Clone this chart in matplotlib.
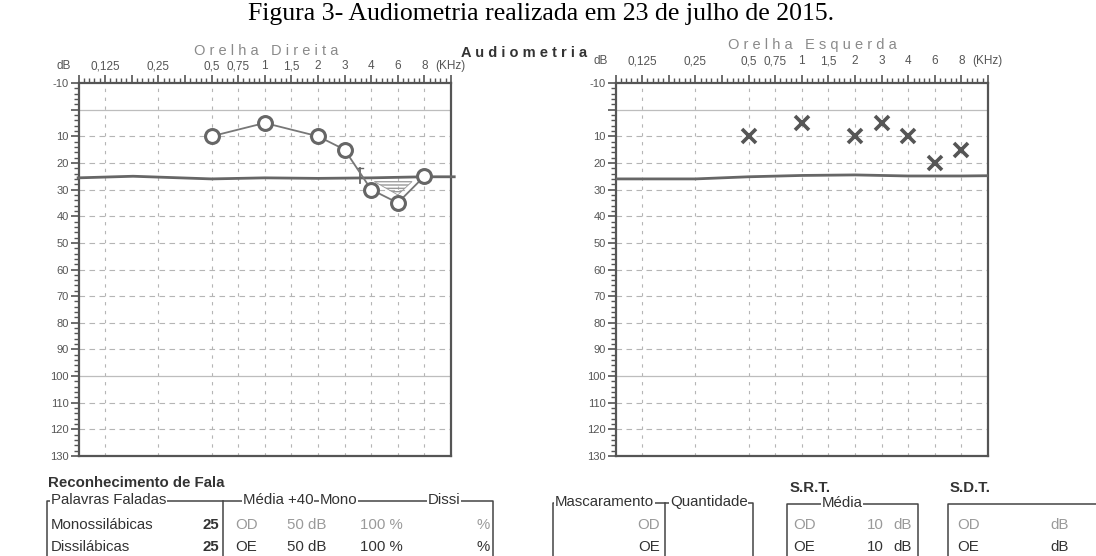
import numpy as np
import matplotlib
matplotlib.use("Agg")
from matplotlib import pyplot as plt
from matplotlib.lines import Line2D
from matplotlib.ticker import FixedLocator, FixedFormatter

plt.rcParams['font.family'] = ['Liberation Sans', 'DejaVu Sans']

# audiogram frequencies (kHz) and labels
freqs = [0.125, 0.25, 0.5, 0.75, 1, 1.5, 2, 3, 4, 6, 8]
freq_labels = ['0,125', '0,25', '0,5', '0,75', '1', '1,5', '2', '3', '4', '6', '8']

# right ear (O) and left ear (X) thresholds in dB
od_freq = [0.5, 1, 2, 3, 4, 6, 8]
od_db = [10, 5, 10, 15, 30, 35, 25]
oe_freq = [0.5, 1, 2, 3, 4, 6, 8]
oe_db = [10, 5, 10, 5, 10, 20, 15]

# hand-drawn reference lines (~25 dB)
od_hand_f = [0.088, 0.18, 0.5, 1.0, 2.0, 4.0, 8.0, 11.8]
od_hand_db = [25.6, 25.0, 26.0, 25.6, 25.8, 25.6, 25.2, 25.2]
oe_hand_f = [0.088, 0.25, 0.5, 1.0, 2.0, 4.0, 8.0, 11.3]
oe_hand_db = [26.0, 26.0, 25.2, 24.7, 24.5, 24.9, 24.9, 24.8]

# hatched area between 4 and 8 kHz (right ear)
hatch_f = [4.2, 7.0, 6.0]
hatch_db = [27.0, 27.0, 32.0]

db_ticks = list(range(-10, 131, 10))
db_labels = [str(v) if v != 0 else '' for v in db_ticks]

W, H = 1096, 556

# octave index scale: octaves equally spaced, 0.75/1.5/3/6 half way
_oct = np.log2(np.array(freqs) / 0.125)
_pos = np.where(np.isclose(_oct, np.round(_oct)), _oct, np.floor(_oct) + 0.5)


def fwd(f):
    f = np.asarray(f, float)
    with np.errstate(divide='ignore', invalid='ignore'):
        o = np.log2(f / 0.125)
    inside = (o >= 0) & (o <= 6)
    return np.where(inside, np.interp(o, _oct, _pos), o)


def inv(p):
    p = np.asarray(p, float)
    inside = (p >= 0) & (p <= 6)
    return np.where(inside, 0.125 * 2 ** np.interp(p, _pos, _oct), 0.125 * 2 ** p)


def px(x, y):
    return x / W, 1 - y / H


def audiogram(ax, title, title_x, title_y, lab_y):
    ax.set_xscale('function', functions=(fwd, inv))
    ax.set_xlim(float(inv(-0.5)), float(inv(6.5)))
    ax.set_ylim(130, -10)

    for f in freqs:
        ax.axvline(f, color='#b5b5b5', lw=0.8, ls=(0, (3, 5)), zorder=1)
    for d in range(10, 121, 10):
        if d == 100:
            continue
        ax.axhline(d, color='#b5b5b5', lw=0.8, ls=(0, (5, 4)), zorder=1)
    ax.axhline(0, color='#bdbdbd', lw=0.9, zorder=1)
    ax.axhline(100, color='#bdbdbd', lw=0.9, zorder=1)

    half = np.arange(-0.5, 6.51, 0.5)
    ax.xaxis.tick_top()
    ax.xaxis.set_major_locator(FixedLocator(inv(half)))
    ax.xaxis.set_major_formatter(FixedFormatter([''] * len(half)))
    ax.xaxis.set_minor_locator(FixedLocator(inv(np.arange(-0.5, 6.5, 0.1))))
    ax.set_yticks(db_ticks, db_labels)
    ax.set_yticks(range(-10, 131, 2), minor=True)
    ax.tick_params(which='major', length=6, width=1.2, color='#555', labelsize=8,
                   labelcolor='#555', pad=1)
    ax.tick_params(which='minor', length=3.5, width=1.0, color='#555')
    for s in ax.spines.values():
        s.set_color('#555')
        s.set_linewidth(1.6)

    # frequency labels on one row with dB and (KHz)
    tr = ax.get_xaxis_transform()
    for f, l in zip(freqs, freq_labels):
        ax.text(f, lab_y, l, transform=tr, ha='center', va='center', fontsize=8.5,
                color='#555')
    ax.text(-0.02, lab_y, 'dB', transform=ax.transAxes, ha='right', va='center',
            fontsize=8.5, color='#555')
    ax.text(float(inv(6.2)), lab_y, '(KHz)', transform=tr, ha='left', va='center',
            fontsize=8.5, color='#555')
    fig.text(*px(title_x, title_y), title, ha='center', va='center', fontsize=10.5,
             color='#8a8a8a')


fig = plt.figure(figsize=(W / 100, H / 100), dpi=100)
ax1 = fig.add_axes([78.5 / W, 1 - 456 / H, 372.5 / W, 373 / H])
ax2 = fig.add_axes([615.5 / W, 1 - 456 / H, 372.5 / W, 373 / H])

audiogram(ax1, 'O r e l h a   D i r e i t a', 266, 51, 1.045)
audiogram(ax2, 'O r e l h a   E s q u e r d a', 812, 45, 1.058)

# right ear
ax1.plot(od_hand_f, od_hand_db, color='#666', lw=2.0, clip_on=False, zorder=3)
ax1.fill(hatch_f, hatch_db, facecolor='none', edgecolor='#999', hatch='-----', lw=0.6,
         zorder=2)
ax1.plot([3.55, 3.55], [22, 27.5], color='#666', lw=1.3, zorder=3)
ax1.plot([3.45, 3.65], [22, 22], color='#666', lw=1.0, zorder=3)
ax1.plot(od_freq, od_db, color='#777', lw=1.3, marker='o', ms=10, mfc='white',
         mec='#666', mew=2.2, zorder=4)

# left ear
ax2.plot(oe_hand_f, oe_hand_db, color='#666', lw=2.0, zorder=3)
ax2.plot(oe_freq, oe_db, ls='none', marker='x', ms=10, mew=2.6, color='#555', zorder=4)

fig.text(*px(541, 14), 'Figura 3- Audiometria realizada em 23 de julho de 2015.',
         ha='center', va='center', fontsize=18.5, family=['Liberation Serif'],
         color='black')
fig.text(*px(524, 53), 'A u d i o m e t r i a', ha='center', va='center',
         fontsize=10.5, weight='bold', color='#333')

# bottom form
dark, grey = '#333', '#9a9a9a'
box = dict(facecolor='white', edgecolor='none', pad=0.5)


def line(xs, ys, lw=1.1):
    fig.add_artist(Line2D([x / W for x in xs], [1 - y / H for y in ys], color='#444',
                          lw=lw))


def txt(x, y, s, color=dark, ha='left', bold=False, bg=False):
    fig.text(*px(x, y), s, ha=ha, va='center', fontsize=10.8, color=color,
             weight='bold' if bold else 'normal', bbox=box if bg else None)


txt(48, 483, 'Reconhecimento de Fala', bold=True)
line([47, 47, 493, 493], [556, 501, 501, 556])
line([223, 223], [501, 556])
txt(51, 500, 'Palavras Faladas', bg=True)
txt(243, 500, 'Média +40', bg=True)
txt(320, 500, 'Mono', bg=True)
txt(428, 500, 'Dissi', bg=True)
rows = [(525, 'Monossilábicas', 'OD', grey), (547, 'Dissilábicas', 'OE', dark)]
for y, name, ear, col in rows:
    txt(51, y, name)
    txt(219, y, '25', ha='right', bold=True)
    txt(235, y, ear, color=col)
    txt(287, y, '50 dB', color=col)
    txt(360, y, '100 %', color=col)
    txt(490, y, '%', color=col, ha='right')

line([553, 553, 753, 753], [556, 503, 503, 556])
line([665, 665], [503, 556])
txt(555, 502, 'Mascaramento', bg=True)
txt(670, 502, 'Quantidade', bg=True)

txt(790, 488, 'S.R.T.', bold=True)
line([787, 787, 918, 918], [556, 504, 504, 556])
txt(842, 503, 'Média', ha='center', bg=True)

txt(950, 488, 'S.D.T.', bold=True)
line([948, 948, 1096], [556, 504, 504])

for y, ear, col in [(525, 'OD', grey), (547, 'OE', dark)]:
    txt(660, y, ear, color=col, ha='right')
    txt(793, y, ear, color=col)
    txt(884, y, '10', color=col, ha='right')
    txt(893, y, 'dB', color=col)
    txt(957, y, ear, color=col)
    txt(1050, y, 'dB', color=col)

fig.savefig('out.png', dpi=100)
